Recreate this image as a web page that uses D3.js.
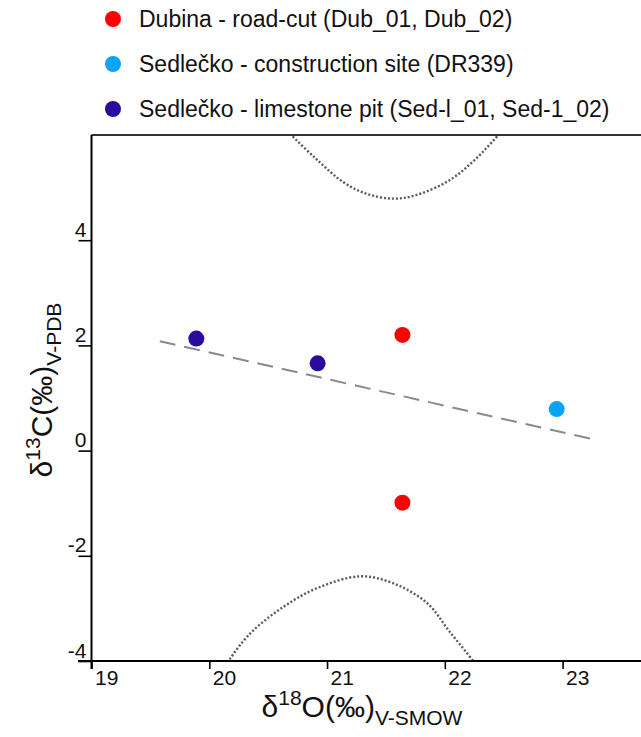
<!DOCTYPE html>
<html>
<head>
<meta charset="utf-8">
<script src="https://cdn.jsdelivr.net/npm/d3@7"></script>
<style>
  body { margin: 0; background: #fff; }
  svg { font-family: "Liberation Sans", Arial, sans-serif; }
</style>
</head>
<body>
<svg id="chart"></svg>
<script>
// samples
const groups = ["Dubina - road-cut (Dub_01, Dub_02)",
                "Sedlečko - construction site (DR339)",
                "Sedlečko - limestone pit (Sed-l_01, Sed-1_02)"];
const groupColors = ["#ff0000", "#0aa4f6", "#2b0a9e"];

const d18O = [21.64, 21.64, 22.95, 19.89, 20.92];
const d13C = [2.20, -0.99, 0.79, 2.13, 1.66];
const sampleGroup = [0, 0, 1, 2, 2];

// trend line endpoints
const trendX = [19.58, 23.27];
const trendY = [2.08, 0.21];

// dotted band curves (traced)
const upperBandX = [20.62, 20.68, 20.91, 21.14, 21.34, 21.56, 21.76, 22.04, 22.26, 22.47, 22.53];
const upperBandY = [6.2, 6.04, 5.54, 5.10, 4.88, 4.79, 4.86, 5.14, 5.54, 6.04, 6.2];
const lowerBandX = [20.14, 20.17, 20.35, 20.63, 20.91, 21.28, 21.56, 21.85, 22.04, 22.24, 22.27];
const lowerBandY = [-4.1, -3.98, -3.47, -2.97, -2.62, -2.39, -2.52, -2.90, -3.44, -4.0, -4.1];

const xTicks = [19, 20, 21, 22, 23];
const yTicks = [-4, -2, 0, 2, 4];

const W = 641, H = 737;
const svg = d3.select("#chart").attr("width", W).attr("height", H);

const x = d3.scaleLinear().domain([19, 23]).range([91.5, 562.6]);
const y = d3.scaleLinear().domain([-4, 6]).range([661, 135]);
const plotTop = y(6), plotBottom = y(-4), plotLeft = x(19);
const fmt = d => String(d);

svg.append("defs").append("clipPath").attr("id", "plotclip")
    .append("rect")
    .attr("x", plotLeft).attr("y", plotTop)
    .attr("width", W - plotLeft).attr("height", plotBottom - plotTop);

const plot = svg.append("g").attr("clip-path", "url(#plotclip)");

// bands
const bandLine = d3.line().curve(d3.curveCatmullRom.alpha(0.5));
[[upperBandX, upperBandY], [lowerBandX, lowerBandY]].forEach(([bx, by]) => {
    plot.append("path")
        .attr("d", bandLine(bx.map((v, i) => [x(v), y(by[i])])))
        .attr("fill", "none")
        .attr("stroke", "#5a5a5a")
        .attr("stroke-width", 2.4)
        .attr("stroke-dasharray", "2,2");
});

// trend
plot.append("line")
    .attr("x1", x(trendX[0])).attr("y1", y(trendY[0]))
    .attr("x2", x(trendX[1])).attr("y2", y(trendY[1]))
    .attr("stroke", "#8a8a8a")
    .attr("stroke-width", 2)
    .attr("stroke-dasharray", "16,9");

// points
plot.selectAll("circle.pt")
    .data(d18O.map((v, i) => ({x: v, y: d13C[i], g: sampleGroup[i]})))
    .join("circle")
    .attr("class", "pt")
    .attr("cx", d => x(d.x))
    .attr("cy", d => y(d.y))
    .attr("r", 8)
    .attr("fill", d => groupColors[d.g]);

// frame
svg.append("line")
    .attr("x1", plotLeft).attr("x2", W)
    .attr("y1", plotTop).attr("y2", plotTop)
    .attr("stroke", "#333").attr("stroke-width", 2);

// axes
const xAxis = svg.append("g")
    .attr("transform", `translate(0,${plotBottom})`)
    .call(d3.axisBottom(x).tickValues(xTicks).tickSize(8).tickSizeOuter(0).tickFormat(fmt));
xAxis.select(".domain").remove();
xAxis.selectAll(".tick line").attr("stroke", "#000").attr("stroke-width", 1.6);
xAxis.selectAll(".tick text")
    .attr("text-anchor", "start")
    .attr("x", 3).attr("y", 24).attr("dy", null)
    .attr("font-size", 21).attr("fill", "#111");
svg.append("line")
    .attr("x1", 78).attr("x2", W)
    .attr("y1", plotBottom).attr("y2", plotBottom)
    .attr("stroke", "#000").attr("stroke-width", 2);

const yAxis = svg.append("g")
    .attr("transform", `translate(${plotLeft},0)`)
    .call(d3.axisLeft(y).tickValues(yTicks).tickSize(13).tickSizeOuter(0).tickFormat(fmt));
yAxis.select(".domain").remove();
yAxis.selectAll(".tick line").attr("stroke", "#000").attr("stroke-width", 1.6);
yAxis.selectAll(".tick text")
    .attr("text-anchor", "end")
    .attr("x", -5).attr("y", -4).attr("dy", null)
    .attr("font-size", 21).attr("fill", "#111");
svg.append("line")
    .attr("x1", plotLeft).attr("x2", plotLeft)
    .attr("y1", plotTop).attr("y2", plotBottom + 8)
    .attr("stroke", "#000").attr("stroke-width", 2);

// axis titles
const xt = svg.append("text")
    .attr("x", 362).attr("y", 717)
    .attr("text-anchor", "middle")
    .attr("font-size", 30).attr("fill", "#111");
xt.append("tspan").text("δ");
xt.append("tspan").attr("font-size", 21).attr("dy", -12).text("18");
xt.append("tspan").attr("dy", 12).text("O(‰)");
xt.append("tspan").attr("font-size", 21).attr("dy", 8).text("V-SMOW");

const yt = svg.append("text")
    .attr("transform", "translate(52,390) rotate(-90)")
    .attr("text-anchor", "middle")
    .attr("font-size", 30).attr("fill", "#111");
yt.append("tspan").text("δ");
yt.append("tspan").attr("font-size", 21).attr("dy", -12).text("13");
yt.append("tspan").attr("dy", 12).text("C(‰)");
yt.append("tspan").attr("font-size", 21).attr("dy", 9).text("V-PDB");

// legend
const legend = svg.append("g");
const legendY = d3.scalePoint().domain(d3.range(groups.length)).range([19, 109]);
groups.forEach((g, i) => {
    legend.append("circle")
        .attr("cx", 113).attr("cy", legendY(i))
        .attr("r", 8).attr("fill", groupColors[i]);
    legend.append("text")
        .attr("x", 139).attr("y", legendY(i) + 8)
        .attr("font-size", 23).attr("fill", "#111")
        .text(g);
});
</script>
</body>
</html>
